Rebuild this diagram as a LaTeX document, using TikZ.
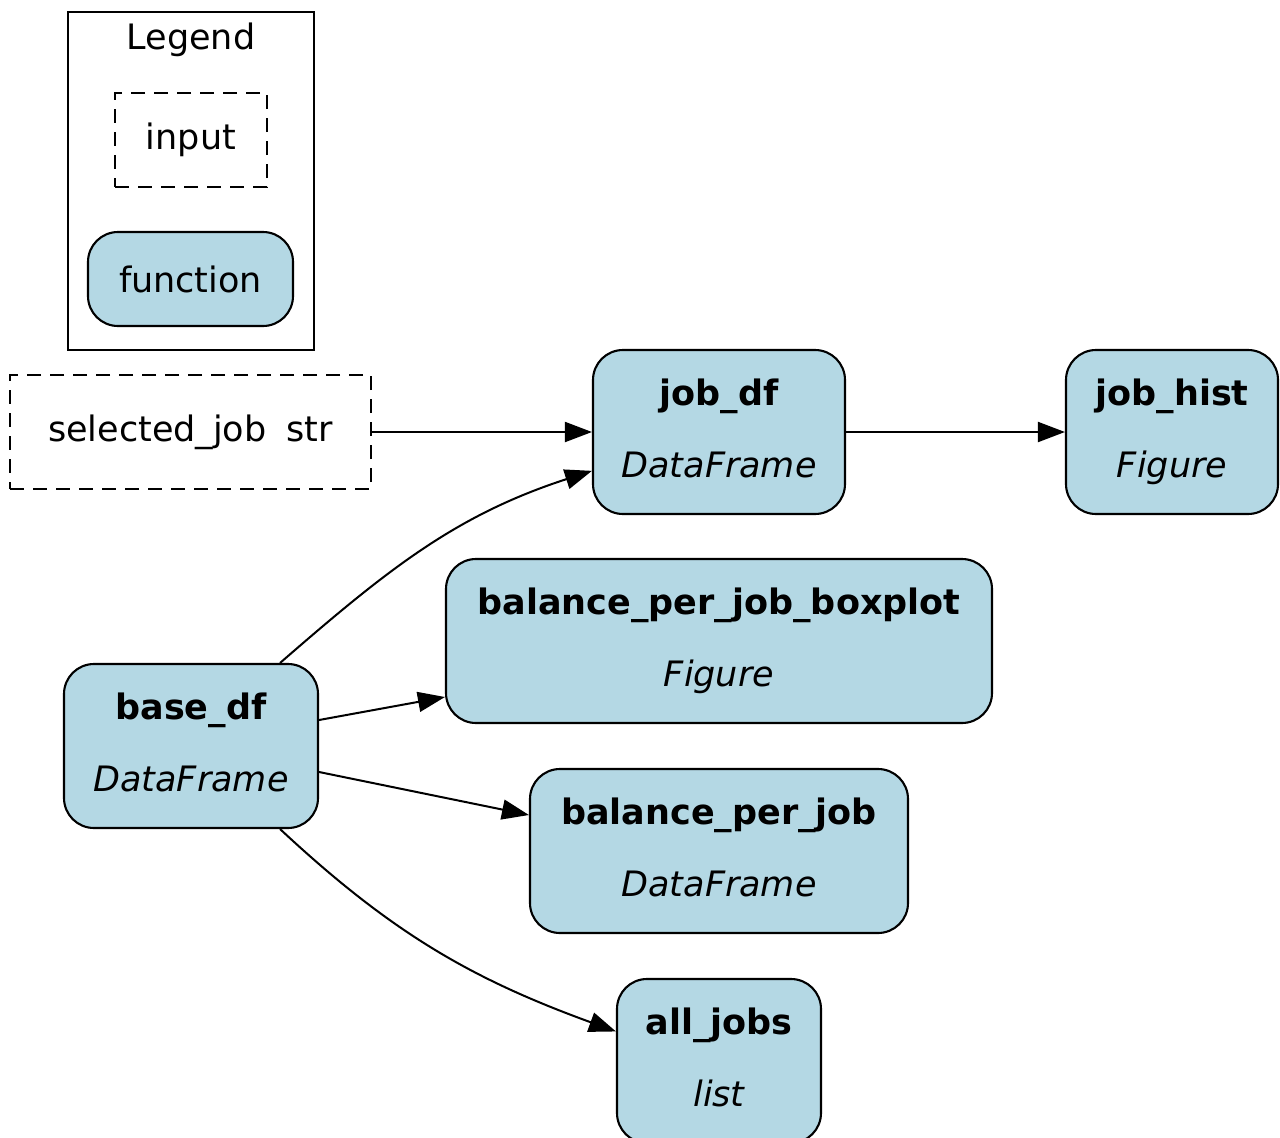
\documentclass[tikz,border=0pt]{standalone}
\usepackage{fontspec}
\setmainfont{DejaVu Sans}
\usetikzlibrary{arrows.meta}
\definecolor{fnblue}{HTML}{B4D8E4}
\newcommand{\rettype}[1]{\textit{#1\vphantom{g}}}

\begin{document}
\begin{tikzpicture}[x=1pt,y=-1pt,
    every node/.style={font=\fontsize{35}{72}\selectfont, align=center},
    func/.style={draw, fill=fnblue, line width=2.1pt, rounded corners=30pt,
                 inner sep=0pt, minimum height=164pt},
    inputbox/.style={draw, line width=2.1pt, dash pattern=on 14pt off 9pt, inner sep=0pt},
    edge/.style={line width=2pt, -{Triangle[length=27pt,width=20pt]}}]
    \useasboundingbox (0,0) rectangle (1280,1138);

    % legend
    \node[draw, line width=2.4pt, minimum width=246pt, minimum height=338pt, inner sep=0pt]
        (legend) at (191,181) {};
    \node (legendtitle) at (191,40) {Legend};
    \node[inputbox, minimum width=152pt, minimum height=94pt] (leginput) at (191,140) {input};
    \node[func, minimum width=205pt, minimum height=94pt] (legfunc) at (190.5,279) {function};

    % inputs
    \node[inputbox, minimum width=361pt, minimum height=114pt] (selectedjob) at (190.5,432)
        {selected\_job\hspace{20pt}str};

    % functions
    \node[func, minimum width=254pt] (basedf) at (191,746)
        {\textbf{base\_df}\\\rettype{DataFrame}};
    \node[func, minimum width=252pt] (jobdf) at (719,432)
        {\textbf{job\_df}\\\rettype{DataFrame}};
    \node[func, minimum width=212pt] (jobhist) at (1172,432)
        {\textbf{job\_hist}\\\rettype{Figure}};
    \node[func, minimum width=546pt] (boxplot) at (719,641)
        {\textbf{balance\_per\_job\_boxplot}\\\rettype{Figure}};
    \node[func, minimum width=378pt] (balperjob) at (719,851)
        {\textbf{balance\_per\_job}\\\rettype{DataFrame}};
    \node[func, minimum width=204pt] (alljobs) at (719,1061)
        {\textbf{all\_jobs}\\\rettype{list}};

    % edges
    \draw[edge] (selectedjob) -- (jobdf);
    \draw[edge] (jobdf) -- (jobhist);
    \draw[edge] (basedf.43) to[out=41, in=198] (jobdf.197);
    \draw[edge] ([yshift=26pt]basedf.east) -- ([yshift=-56pt]boxplot.west);
    \draw[edge] ([yshift=-26pt]basedf.east) -- ([yshift=36pt]balperjob.west);
    \draw[edge] (basedf.-43) to[out=-43, in=160] (alljobs.164);
\end{tikzpicture}
\end{document}
